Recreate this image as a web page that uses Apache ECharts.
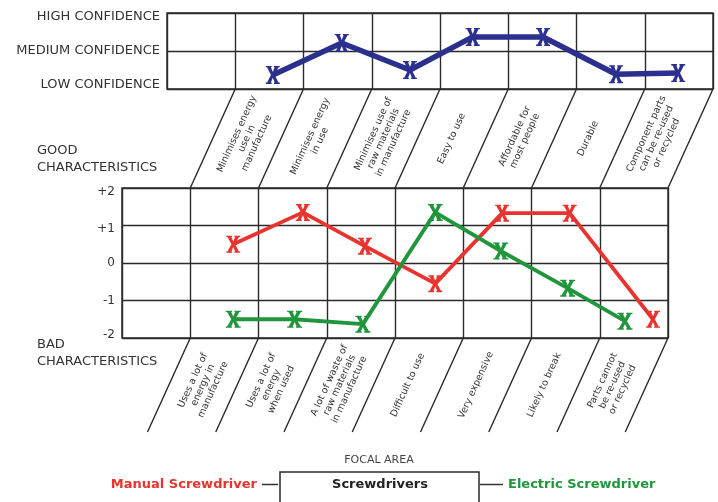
<!DOCTYPE html>
<html><head><meta charset="utf-8">
<script src="https://cdn.jsdelivr.net/npm/echarts@6/dist/echarts.min.js"></script>
<style>html,body{margin:0;padding:0;background:#fff}#c{width:718px;height:502px}</style>
</head><body><div id="c"></div>
<script>
const confidenceTicks = ['LOW CONFIDENCE', 'MEDIUM CONFIDENCE', 'HIGH CONFIDENCE'];
const ratingTicks = ['-2', '-1', '0', '+1', '+2'];
const goodLabels = ['Minimises energy\nuse in\nmanufacture', 'Minimises energy\nin use', 'Minimises use of\nraw materials\nin manufacture', 'Easy to use', 'Affordable for\nmost people', 'Durable', 'Component parts\ncan be re-used\nor recycled'];
const badLabels = ['Uses a lot of\nenergy in\nmanufacture', 'Uses a lot of\nenergy\nwhen used', 'A lot of waste of\nraw materials\nin manufacture', 'Difficult to use', 'Very expensive', 'Likely to break', 'Parts cannot\nbe re-used\nor recycled'];
const columns = [1, 2, 3, 4, 5, 6, 7];
const confidencePos = [1.55, 2.56, 3.56, 4.48, 5.51, 6.58, 7.49];
const confidence = [0.37, 1.21, 0.5, 1.37, 1.37, 0.39, 0.42];
const manualPos = [1.63, 2.65, 3.56, 4.59, 5.57, 6.56, 7.78];
const manual = [0.5, 1.35, 0.45, -0.55, 1.33, 1.33, -1.5];
const electricPos = [1.63, 2.53, 3.53, 4.59, 5.55, 6.53, 7.37];
const electric = [-1.5, -1.5, -1.63, 1.35, 0.32, -0.67, -1.55];
const seriesNames = ['Confidence', 'Manual Screwdriver', 'Electric Screwdriver'];
const focalTitle = 'FOCAL AREA';
const focalArea = 'Screwdrivers';
const goodTitle = 'GOOD\nCHARACTERISTICS';
const badTitle = 'BAD\nCHARACTERISTICS';

const FONT = 'DejaVu Sans';
const GRIDC = '#2a2a2a';
const XSYM = 'path://M0,0H5V1.2H4.4L6,5.4L7.6,1.2H7V0H12V1.2H10.9L7.6,8L10.9,14.8H12V16H7V14.8H7.6L6,10.6L4.4,14.8H5V16H0V14.8H1.1L4.4,8L1.1,1.2H0Z';
const zip = (a, b) => a.map((v, i) => [v, b[i]]);

const chart = echarts.init(document.getElementById('c'), null, {renderer: 'canvas'});
const splitStyle = {show: true, lineStyle: {color: GRIDC, width: 1.4}};
const xAxisBase = {type: 'value', min: 0, max: 8, interval: 1, axisLabel: {show: false}, axisLine: {show: false}, axisTick: {show: false}, splitLine: splitStyle};
const option = {
  animation: false,
  backgroundColor: '#fff',
  grid: [
    {left: 167, top: 13, width: 546, height: 76, show: true, borderColor: GRIDC, borderWidth: 1.4},
    {left: 122, top: 188, width: 546, height: 150, show: true, borderColor: GRIDC, borderWidth: 1.4}
  ],
  xAxis: [Object.assign({gridIndex: 0}, xAxisBase), Object.assign({gridIndex: 1}, xAxisBase)],
  yAxis: [
    {gridIndex: 0, type: 'value', min: 0, max: 2, interval: 1, axisLine: {show: false}, axisTick: {show: false}, splitLine: splitStyle,
      axisLabel: {margin: 7, fontFamily: FONT, fontSize: 13, color: '#333',
        formatter: v => {
          const t = confidenceTicks[v];
          return v === 0 ? '{lo|' + t + '}' : v === 2 ? '{hi|' + t + '}' : '{md|' + t + '}';
        },
        rich: {
          lo: {fontFamily: FONT, fontSize: 13, color: '#333', padding: [0, 0, 8, 0]},
          hi: {fontFamily: FONT, fontSize: 13, color: '#333', padding: [7, 0, 0, 0]},
          md: {fontFamily: FONT, fontSize: 13, color: '#333'}
        }}},
    {gridIndex: 1, type: 'value', min: -2, max: 2, interval: 1, axisLine: {show: false}, axisTick: {show: false}, splitLine: splitStyle,
      axisLabel: {margin: 7, fontFamily: FONT, fontSize: 12, color: '#333',
        formatter: v => {
          const t = ratingTicks[v + 2];
          return v >= 1 ? '{dn|' + t + '}' : v === -2 ? '{up|' + t + '}' : '{n|' + t + '}';
        },
        rich: {
          dn: {fontFamily: FONT, fontSize: 12, color: '#333', padding: [7, 0, 0, 0]},
          up: {fontFamily: FONT, fontSize: 12, color: '#333', padding: [0, 0, 6, 0]},
          n: {fontFamily: FONT, fontSize: 12, color: '#333'}
        }}}
  ],
  legend: [
    {data: [seriesNames[1]], right: 440, top: 478, padding: 0, align: 'right', icon: 'rect', itemWidth: 16, itemHeight: 1.5,
      itemStyle: {color: '#333'}, selectedMode: false,
      textStyle: {color: '#e8332f', fontWeight: 'bold', fontSize: 13, fontFamily: FONT}},
    {data: [seriesNames[2]], left: 480, top: 478, padding: 0, align: 'left', icon: 'rect', itemWidth: 23, itemHeight: 1.5,
      itemStyle: {color: '#333'}, selectedMode: false,
      textStyle: {color: '#1f963c', fontWeight: 'bold', fontSize: 13, fontFamily: FONT}}
  ],
  series: [
    {name: seriesNames[0], type: 'line', xAxisIndex: 0, yAxisIndex: 0, data: zip(confidencePos, confidence),
      symbol: XSYM, symbolSize: [14, 18], color: '#2b2f8e', lineStyle: {width: 5.5, color: '#2b2f8e'}, itemStyle: {color: '#2b2f8e', borderWidth: 0}, z: 3},
    {name: seriesNames[1], type: 'line', xAxisIndex: 1, yAxisIndex: 1, data: zip(manualPos, manual),
      symbol: XSYM, symbolSize: [14, 17], color: '#e8332f', lineStyle: {width: 3.8, color: '#e8332f'}, itemStyle: {color: '#e8332f', borderWidth: 0}, z: 3},
    {name: seriesNames[2], type: 'line', xAxisIndex: 1, yAxisIndex: 1, data: zip(electricPos, electric),
      symbol: XSYM, symbolSize: [15, 17], color: '#1f963c', lineStyle: {width: 3.8, color: '#1f963c'}, itemStyle: {color: '#1f963c', borderWidth: 0}, z: 4}
  ]
};
chart.setOption(option);

// Slanted label bands, positioned from the two grids' own scales
const up = k => chart.convertToPixel({gridIndex: 0}, [k, 0]);
const lowTop = k => chart.convertToPixel({gridIndex: 1}, [k, 2]);
const lowBot = k => chart.convertToPixel({gridIndex: 1}, [k, -2]);
const p0 = up(0), q0 = lowTop(0);
const dx = p0[0] - q0[0], dy = q0[1] - p0[1];
const ang = Math.atan2(dy, dx);
const s2 = 0.95;
const graphics = [];
const lineStyle = {stroke: GRIDC, lineWidth: 1.4};
for (let k = 1; k <= 8; k++) {
  const a = up(k), b = lowTop(k), c = lowBot(k);
  graphics.push({type: 'line', shape: {x1: a[0], y1: a[1], x2: b[0], y2: b[1]}, style: lineStyle, silent: true});
  graphics.push({type: 'line', shape: {x1: c[0], y1: c[1], x2: c[0] - dx * s2, y2: c[1] + dy * s2}, style: lineStyle, silent: true});
}
const labelStyle = t => ({text: t, align: 'center', verticalAlign: 'middle', fontFamily: FONT, fontSize: 9.5, lineHeight: 11, fill: '#333'});
columns.forEach((col, i) => {
  const k = col + 0.5;
  const a = up(k), b = lowTop(k), c = lowBot(k);
  graphics.push({type: 'text', x: (a[0] + b[0]) / 2, y: (a[1] + b[1]) / 2, rotation: ang, style: labelStyle(goodLabels[i]), silent: true});
  graphics.push({type: 'text', x: c[0] - dx * s2 / 2, y: c[1] + dy * s2 / 2, rotation: ang, style: labelStyle(badLabels[i]), silent: true});
});
const titleStyle = t => ({text: t, fontFamily: FONT, fontSize: 13, lineHeight: 17, fill: '#333', align: 'left', verticalAlign: 'middle'});
graphics.push({type: 'text', x: 37, y: 159, style: titleStyle(goodTitle), silent: true});
graphics.push({type: 'text', x: 37, y: 353, style: titleStyle(badTitle), silent: true});
graphics.push({type: 'text', x: 379, y: 460, style: {text: focalTitle, fontFamily: FONT, fontSize: 11, fill: '#444', align: 'center', verticalAlign: 'middle'}, silent: true});
graphics.push({type: 'rect', shape: {x: 280, y: 472, width: 199, height: 40}, style: {fill: '#fff', stroke: GRIDC, lineWidth: 1.5}, silent: true});
graphics.push({type: 'text', x: 380, y: 485, style: {text: focalArea, fontFamily: FONT, fontSize: 13, fontWeight: 'bold', fill: '#222', align: 'center', verticalAlign: 'middle'}, silent: true});
chart.setOption({graphic: graphics});
</script>
</body></html>
